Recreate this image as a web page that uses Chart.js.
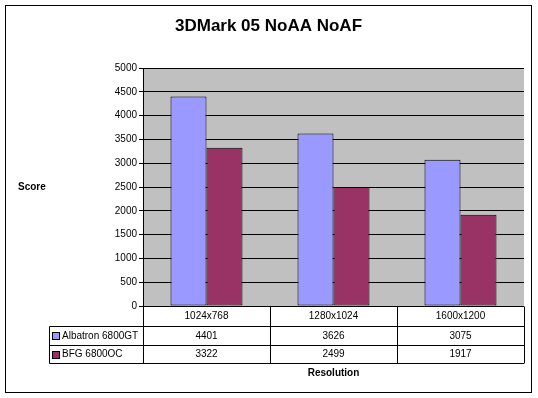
<!DOCTYPE html>
<html>
<head>
<meta charset="utf-8">
<script src="https://cdn.jsdelivr.net/npm/chart.js@4/dist/chart.umd.min.js"></script>
<style>
html,body{margin:0;padding:0;background:#fff;}
canvas{display:block;}
</style>
</head>
<body>
<canvas id="c" width="538" height="398"></canvas>
<script>
const chartTitle = "3DMark 05 NoAA NoAF";
const categories = ["1024x768", "1280x1024", "1600x1200"];
const seriesNames = ["Albatron 6800GT", "BFG 6800OC"];
const albatron = [4401, 3626, 3075];
const bfg = [3322, 2499, 1917];
const yTicks = [0, 500, 1000, 1500, 2000, 2500, 3000, 3500, 4000, 4500, 5000];
const colors = ["#9999FF", "#993366"];

const FONT = '"Liberation Sans", Arial, sans-serif';

const excelPlugin = {
  id: 'excel',
  beforeDraw(chart) {
    const ctx = chart.ctx;
    const a = chart.chartArea;
    ctx.save();
    ctx.fillStyle = '#fff';
    ctx.fillRect(0, 0, chart.width, chart.height);
    ctx.strokeStyle = '#000';
    ctx.lineWidth = 1;
    ctx.strokeRect(5.5, 5.5, 526, 387);
    ctx.fillStyle = '#C0C0C0';
    ctx.fillRect(a.left, a.top, a.right - a.left, a.bottom - a.top);
    ctx.restore();
  },
  afterDraw(chart) {
    const ctx = chart.ctx;
    const a = chart.chartArea;
    const x = chart.scales.x;
    const n = categories.length;
    const colW = (a.right - a.left) / n;
    const tableLeft = 49.5;
    const r0 = Math.round(a.bottom) + 0.5;
    const r1 = r0 + 20, r2 = r1 + 19, r3 = r2 + 18;
    ctx.save();
    ctx.fillStyle = '#000';
    ctx.font = 'bold 17px ' + FONT;
    ctx.textAlign = 'center';
    ctx.textBaseline = 'middle';
    ctx.fillText(chartTitle, 268.5, 26);

    ctx.strokeStyle = '#000';
    ctx.lineWidth = 1;
    ctx.beginPath();
    ctx.moveTo(a.left, r0); ctx.lineTo(a.right, r0);
    [r1, r2, r3].forEach(y => { ctx.moveTo(tableLeft, y); ctx.lineTo(a.right, y); });
    ctx.moveTo(tableLeft, r1); ctx.lineTo(tableLeft, r3);
    for (let i = 0; i <= n; i++) {
      const xx = Math.round(a.left + i * colW) + 0.5;
      ctx.moveTo(xx, r0); ctx.lineTo(xx, r3);
    }
    ctx.stroke();

    ctx.fillStyle = '#000';
    ctx.font = '10px ' + FONT;
    ctx.textAlign = 'center';
    ctx.textBaseline = 'middle';
    categories.forEach((c, i) => {
      const cx = x.getPixelForValue(i);
      ctx.fillText(c, cx, (r0 + r1) / 2);
      ctx.fillText(String(albatron[i]), cx, (r1 + r2) / 2);
      ctx.fillText(String(bfg[i]), cx, (r2 + r3) / 2);
    });
    ctx.textAlign = 'left';
    [[r1, r2], [r2, r3]].forEach((rr, k) => {
      const cy = (rr[0] + rr[1]) / 2;
      ctx.fillStyle = colors[k];
      ctx.fillRect(53, Math.round(cy) - 3, 6, 6);
      ctx.strokeStyle = '#000';
      ctx.strokeRect(52.5, Math.round(cy) - 3.5, 7, 7);
      ctx.fillStyle = '#000';
      ctx.fillText(seriesNames[k], 62, cy);
    });
    ctx.font = 'bold 10px ' + FONT;
    ctx.textAlign = 'left';
    ctx.fillText('Score', 18, 187);
    ctx.textAlign = 'center';
    ctx.fillText('Resolution', (a.left + a.right) / 2, 373);
    ctx.restore();
  }
};

new Chart(document.getElementById('c'), {
  type: 'bar',
  data: {
    labels: categories,
    datasets: [
      { label: seriesNames[0], data: albatron, backgroundColor: colors[0], borderColor: '#000', borderWidth: 1, borderSkipped: false },
      { label: seriesNames[1], data: bfg, backgroundColor: colors[1], borderColor: '#000', borderWidth: 1, borderSkipped: false }
    ]
  },
  options: {
    responsive: false,
    animation: false,
    layout: { padding: { left: 107, right: 14, top: 68, bottom: 92 } },
    datasets: { bar: { categoryPercentage: 0.567, barPercentage: 1 } },
    plugins: {
      legend: { display: false },
      tooltip: { enabled: false },
      title: { display: false }
    },
    scales: {
      x: {
        grid: { display: false },
        border: { display: false },
        ticks: { display: false },
        afterFit(s) { s.height = 0; }
      },
      y: {
        min: 0, max: 5000,
        afterBuildTicks(s) { s.ticks = yTicks.map(v => ({ value: v })); },
        afterFit(s) { s.width = 36; },
        grid: { color: '#000', lineWidth: 1, tickLength: 4, drawOnChartArea: true },
        border: { color: '#000', width: 1 },
        ticks: { color: '#000', font: { family: FONT, size: 10 }, padding: 2, callback: (v) => String(v) }
      }
    }
  },
  plugins: [excelPlugin]
});
</script>
</body>
</html>
